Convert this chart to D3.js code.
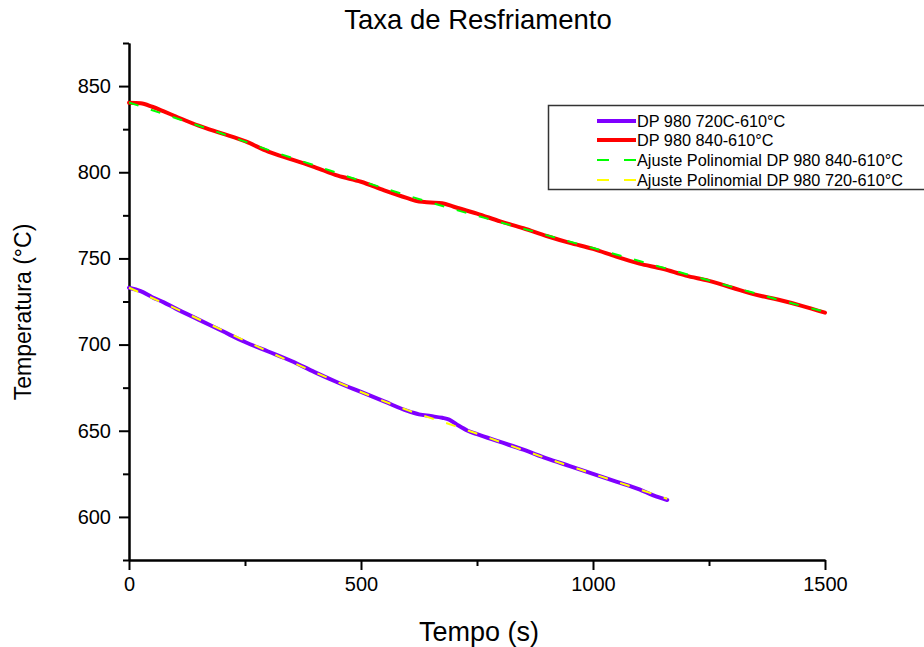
<!DOCTYPE html>
<html>
<head>
<meta charset="utf-8">
<script src="https://cdn.jsdelivr.net/npm/d3@7"></script>
<style>
body { margin: 0; background: #fff; }
svg text { font-family: Arial, "Liberation Sans", sans-serif; }
</style>
</head>
<body>
<div id="idChart"></div>
<script>
// measured curves, time (s) and temperature (C)
var tRed = [0, 25, 50, 75, 100, 150, 200, 250, 300, 350, 400, 450, 500, 550, 600, 625, 650, 675, 700, 750, 800, 850, 900, 950, 1000, 1050, 1100, 1150, 1200, 1250, 1300, 1350, 1400, 1450, 1500];
var vRed = [840.3, 840, 838, 835.3, 832.5, 827, 822.5, 818, 812, 807.5, 803, 798, 794.5, 789.5, 785, 783, 782.5, 782, 780, 776, 771.5, 767.5, 763, 759, 755.5, 751, 747, 744, 740, 737, 733, 729, 726, 722.5, 718.5];

var tPurple = [0, 25, 50, 75, 100, 150, 200, 250, 300, 350, 400, 450, 500, 550, 600, 625, 650, 675, 690, 710, 730, 750, 800, 850, 900, 950, 1000, 1050, 1100, 1130, 1160];
var vPurple = [733, 731, 727.5, 724.5, 721, 714.5, 708, 701.5, 696, 690.5, 684, 678, 672.5, 667, 661.5, 659.5, 658.5, 657.5, 656.5, 653, 650, 648, 643.5, 639, 634, 629.5, 625, 620.5, 616, 612.5, 609.8];

// polynomial fits
var tFitGreen = [0, 100, 200, 300, 400, 500, 600, 700, 800, 900, 1000, 1100, 1200, 1300, 1400, 1500];
var vFitGreen = [840.5, 831.5, 822.5, 813, 804, 795, 786.5, 778.5, 771, 763.5, 756, 748.5, 741, 733.5, 726, 719];

var tFitYellow = [0, 100, 200, 300, 400, 500, 600, 700, 800, 900, 1000, 1100, 1160];
var vFitYellow = [733, 721, 708.5, 696, 684, 672.5, 662, 653, 643.5, 634, 625, 616, 610.5];

var xMajor = [0, 500, 1000, 1500];
var xMinor = [250, 750, 1250];
var yMajor = [600, 650, 700, 750, 800, 850];
var yMinor = [575, 625, 675, 725, 775, 825, 875];

var legendNames = ["DP 980 720C-610°C", "DP 980 840-610°C", "Ajuste Polinomial DP 980 840-610°C", "Ajuste Polinomial DP 980 720-610°C"];
var legendColors = ["#7f00ff", "#ff0000", "#00ff00", "#ffff00"];
var legendDashed = [false, false, true, true];

function zip(t, v)
{
    var a = [];
    for (var i = 0; i < t.length; i++) a.push({no: t[i], value: v[i]});
    return a;
}

var iWidth = 924, iHeight = 647;
var svg = d3.select("#idChart").append("svg").attr("width", iWidth).attr("height", iHeight);

var x = d3.scaleLinear().domain([0, 1500]).range([129, 825]);
var y = d3.scaleLinear().domain([575, 875]).range([560, 43]);

var valueLine = d3.line()
    .x(function(d){ return x(d.no); })
    .y(function(d){ return y(d.value); })
    .curve(d3.curveMonotoneX);

// axes: major ticks labelled, minor ticks shorter
function drawAxis(g, axis)
{
    g.call(axis);
    g.select(".domain").attr("stroke", "#000").attr("stroke-width", 2);
    g.selectAll(".tick line").attr("stroke", "#000").attr("stroke-width", 2);
    g.selectAll(".tick text").attr("fill", "#000").style("font-size", "20px").style("font-family", "Arial, 'Liberation Sans', sans-serif");
}

drawAxis(svg.append("g").attr("transform", "translate(0,560)"),
    d3.axisBottom(x).tickValues(xMinor).tickSize(6).tickSizeOuter(0).tickFormat(""));
drawAxis(svg.append("g").attr("transform", "translate(129,0)"),
    d3.axisLeft(y).tickValues(yMinor).tickSize(6).tickSizeOuter(0).tickFormat(""));
drawAxis(svg.append("g").attr("transform", "translate(0,560)"),
    d3.axisBottom(x).tickValues(xMajor).tickSize(10).tickSizeOuter(0).tickPadding(7).tickFormat(d3.format("d")));
drawAxis(svg.append("g").attr("transform", "translate(129,0)"),
    d3.axisLeft(y).tickValues(yMajor).tickSize(10).tickSizeOuter(0).tickPadding(8).tickFormat(d3.format("d")));

// data lines
svg.append("path").attr("d", valueLine(zip(tPurple, vPurple)))
    .attr("fill", "none").attr("stroke", legendColors[0]).attr("stroke-width", 4).attr("stroke-linecap", "round");
svg.append("path").attr("d", valueLine(zip(tRed, vRed)))
    .attr("fill", "none").attr("stroke", legendColors[1]).attr("stroke-width", 4).attr("stroke-linecap", "round");
svg.append("path").attr("d", valueLine(zip(tFitGreen, vFitGreen)))
    .attr("fill", "none").attr("stroke", legendColors[2]).attr("stroke-width", 2).attr("stroke-dasharray", "10,13");
svg.append("path").attr("d", valueLine(zip(tFitYellow, vFitYellow)))
    .attr("fill", "none").attr("stroke", legendColors[3]).attr("stroke-width", 2).attr("stroke-dasharray", "10,13");

// titles
svg.append("text").attr("x", 478).attr("y", 29).attr("text-anchor", "middle")
    .style("font-size", "27.5px").text("Taxa de Resfriamento");
svg.append("text").attr("x", 479).attr("y", 641).attr("text-anchor", "middle")
    .style("font-size", "27px").text("Tempo (s)");
svg.append("text").attr("transform", "translate(31,312) rotate(-90)").attr("text-anchor", "middle")
    .style("font-size", "23px").text("Temperatura (°C)");

// legend
var legend = svg.append("g");
legend.append("rect").attr("x", 548.5).attr("y", 105.5).attr("width", 400).attr("height", 84)
    .attr("fill", "#fff").attr("stroke", "#333").attr("stroke-width", 1.5);
var rowY = [121, 140, 160, 180];
legendNames.forEach(function(name, i) {
    legend.append("line").attr("x1", 597).attr("x2", 636).attr("y1", rowY[i]).attr("y2", rowY[i])
        .attr("stroke", legendColors[i])
        .attr("stroke-width", legendDashed[i] ? 2 : 4)
        .attr("stroke-dasharray", legendDashed[i] ? "12,15" : null);
    legend.append("text").attr("x", 637).attr("y", rowY[i] + 5.5)
        .style("font-size", "16.3px").text(name);
});
</script>
</body>
</html>
